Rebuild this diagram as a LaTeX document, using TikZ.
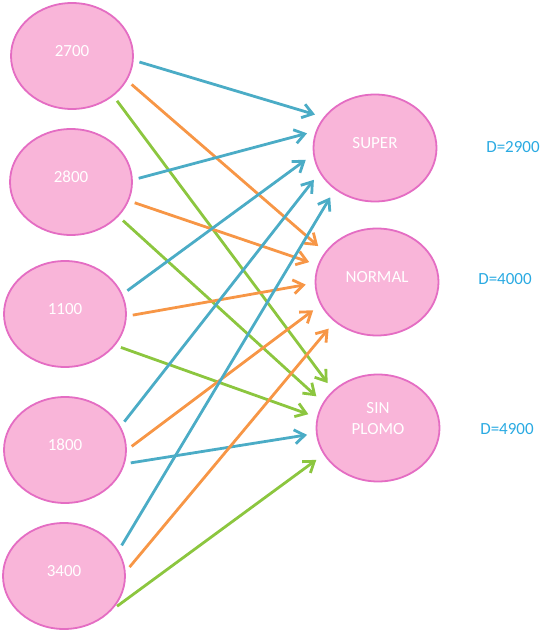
\documentclass[tikz,border=0pt]{standalone}
\usepackage{fontspec}
\setmainfont{Carlito}
\usepackage{tikz}
\usetikzlibrary{arrows.meta,shapes.geometric}
\definecolor{cPinkFill}{HTML}{F9B5D9}
\definecolor{cPinkLine}{HTML}{E46DC3}
\definecolor{cBlue}{HTML}{4BACC6}
\definecolor{cOrange}{HTML}{F79646}
\definecolor{cGreen}{HTML}{8CC63F}
\definecolor{cDem}{HTML}{2AAAE2}

\begin{document}
\begin{tikzpicture}[x=1pt,y=-1pt,font=\fontsize{17}{21}\selectfont,
  src/.style={ellipse,draw=cPinkLine,fill=cPinkFill,line width=1.8pt,text=white,
              minimum width=122pt,minimum height=106pt,inner sep=0pt,text depth=10pt},
  dst/.style={src,minimum width=123pt,minimum height=107pt,align=center},
  dem/.style={text=cDem,inner sep=0pt},
  ar/.style={-{Straight Barb[length=10pt,width=14pt]},line width=2.8pt,
             shorten <=6pt,shorten >=9pt},
  ab/.style={ar,cBlue},
  ao/.style={ar,cOrange},
  ag/.style={ar,cGreen}]
\useasboundingbox (0,0) rectangle (558,636);

\node[src] (o1) at (72,56) {2700};
\node[src] (o2) at (71,182) {2800};
\node[src] (o3) at (65,314) {1100};
\node[src] (o4) at (65,450) {1800};
\node[src] (o5) at (64,576) {3400};
\node[dst] (d1) at (375,148) {SUPER};
\node[dst] (d2) at (377,282) {NORMAL};
\node[dst,text depth=20pt] (d3) at (378,428) {SIN\\PLOMO};
\node[dem] (q1) at (513,147) {D=2900};
\node[dem] (q2) at (505,279) {D=4000};
\node[dem] (q3) at (507,429) {D=4900};

\draw[ab] (o1.-4) -- (d1.149);
\draw[ao] (o1.-24) -- (d2.150);
\draw[ag] (o1.-44) -- (d3.140);
\draw[ab] (o2.2) -- (d1.164);
\draw[ao] (o2.-18) -- (d2.164);
\draw[ag] (o2.-36) -- (d3.155);
\draw[ab] (o3.19) -- (d1.186);
\draw[ao] (o3.-2) -- (d2.181);
\draw[ag] (o3.-32) -- (d3.170);
\draw[ab] (o4.23) -- (d1.204);
\draw[ao] (o4.0) -- (d2.202);
\draw[ab] (o4.-13) -- (d3.185);
\draw[ab] (o5.25) -- (d1.226);
\draw[ao] (o5.4) -- (d2.223);
\draw[ag] (o5.-35) -- (d3.206);
\end{tikzpicture}
\end{document}
